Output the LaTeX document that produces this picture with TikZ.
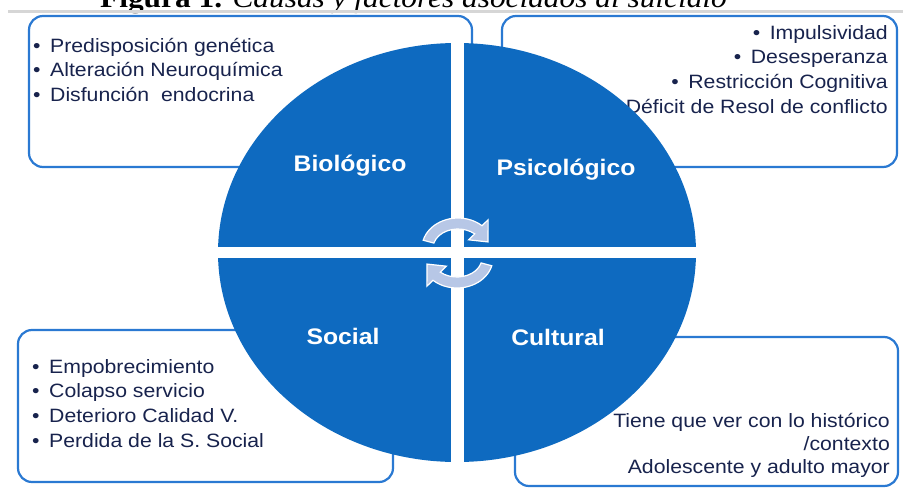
\documentclass[tikz,border=0pt]{standalone}
\usepackage{fontspec}
\setmainfont[FakeStretch=1.1]{Liberation Sans}
\newfontfamily\titlefont[FakeStretch=1.1]{Liberation Serif}
\definecolor{pieblue}{HTML}{0E6AC0}
\definecolor{boxblue}{HTML}{2A79D2}
\definecolor{txtnavy}{HTML}{18234D}
\definecolor{arrowfill}{HTML}{B7C7E6}
\definecolor{rulegray}{HTML}{D6D6D6}
\newcommand\bl{\makebox[17pt][l]{•}}
\newcommand\br{\makebox[17pt][l]{•}}
\newcommand\cyclearrow{%
  \filldraw[fill=arrowfill, draw=white, line width=1.2pt]
    (165:36 and 30) arc[start angle=165, end angle=48, x radius=36, y radius=30]
    -- (48:45 and 38) -- (14:31 and 25) -- (48:16 and 11) -- (48:25 and 19)
    arc[start angle=48, end angle=165, x radius=25, y radius=19] -- cycle;}
\tikzset{
  infobox/.style={draw=boxblue, line width=2.2pt, rounded corners=14pt},
  itemtxt/.style={inner sep=0pt, text=txtnavy, font=\fontsize{19.3}{24}\selectfont},
  lefttxt/.style={itemtxt, anchor=base west},
  righttxt/.style={itemtxt, anchor=base east},
  quadlabel/.style={inner sep=0pt, text=white, font=\fontsize{22.5}{24}\selectfont\bfseries},
}
\begin{document}
\begin{tikzpicture}[x=1pt, y=1pt]
\useasboundingbox (0,0) rectangle (903,-490);
\clip (0,0) rectangle (903,-490);
\fill[white] (0,0) rectangle (903,-490);
% title (cut at top, as in the reference) and rule
\node[inner sep=0pt, anchor=base west, font=\titlefont\fontsize{28.5}{30}\selectfont] (title) at (100,-7)
  {\textbf{Figura 1.} \textit{Causas y factores asociados al suicidio}};
\draw[rulegray, line width=3pt] (8,-11.5) -- (903,-11.5);
% boxes
\draw[infobox] (29,-16) rectangle (472,-167);
\draw[infobox] (502,-16) rectangle (897,-167);
\draw[infobox] (18,-330) rectangle (393,-482);
\draw[infobox] (515,-337) rectangle (898,-486);
% box texts
\node[lefttxt] (b1) at (33,-52) {\bl Predisposición genética};
\node[lefttxt] (b2) at (33,-76.5) {\bl Alteración Neuroquímica};
\node[lefttxt] (b3) at (33,-101) {\bl Disfunción\ \ endocrina};
\node[righttxt] (p1) at (888,-39) {\br Impulsividad};
\node[righttxt] (p2) at (888,-63.7) {\br Desesperanza};
\node[righttxt] (p3) at (888,-88.4) {\br Restricción Cognitiva};
\node[righttxt] (p4) at (888,-113) {\br Déficit de Resol de conflicto};
\node[lefttxt] (s1) at (32,-373) {\bl Empobrecimiento};
\node[lefttxt] (s2) at (32,-397.7) {\bl Colapso servicio};
\node[lefttxt] (s3) at (32,-422.3) {\bl Deterioro Calidad V.};
\node[lefttxt] (s4) at (32,-447) {\bl Perdida de la S. Social};
\node[righttxt] (c1) at (890,-427) {Tiene que ver con lo histórico};
\node[righttxt] (c2) at (890,-450) {/contexto};
\node[righttxt] (c3) at (890,-473) {Adolescente y adulto mayor};
% pie
\fill[pieblue] (457,-252.5) ellipse [x radius=239, y radius=209.5];
\fill[white] (450.5,-30) rectangle (463.5,-475);
\fill[white] (210,-247) rectangle (705,-257.5);
% labels
\node[quadlabel] (bio) at (350,-166) {Biológico};
\node[quadlabel] (psi) at (566,-170) {Psicológico};
\node[quadlabel] (soc) at (343,-336) {Social};
\node[quadlabel] (cul) at (558,-337) {Cultural};
% cycle arrows
\begin{scope}[shift={(458,-248)}]\cyclearrow\end{scope}
\begin{scope}[shift={(457,-258)}, rotate=180]\cyclearrow\end{scope}
\end{tikzpicture}
\end{document}
